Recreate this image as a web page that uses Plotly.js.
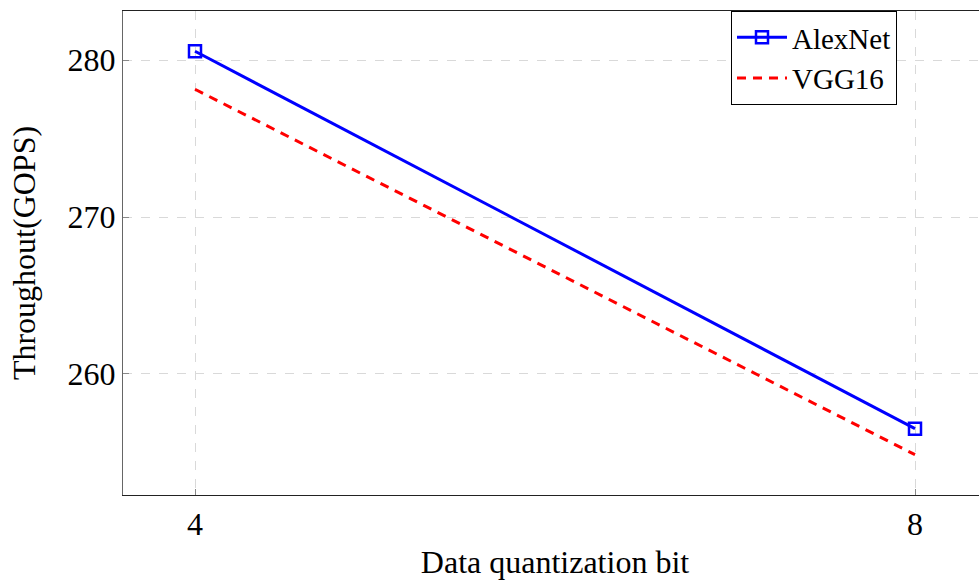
<!DOCTYPE html>
<html>
<head>
<meta charset="utf-8">
<script src="https://cdn.plot.ly/plotly-3.0.1.min.js"></script>
<style>
  html, body { margin: 0; padding: 0; overflow: hidden; background: #fff; }
  #chart { width: 990px; height: 580px; }
</style>
</head>
<body>
<div id="chart"></div>
<script>
// Throughput versus data quantization bit width
const bits = [4, 8];
const alexnet = [280.57, 256.5];
const vgg16 = [278.15, 254.84];
const yTicks = [260, 270, 280];

const serif = "'Liberation Serif', 'DejaVu Serif', serif";

const traces = [
  {
    x: bits, y: alexnet, name: 'AlexNet', type: 'scatter', mode: 'lines+markers',
    line: { color: '#0000ff', width: 3 },
    marker: { symbol: 'square-open', size: 12, color: '#0000ff', line: { width: 2.5, color: '#0000ff' } }
  },
  {
    x: bits, y: vgg16, name: 'VGG16', type: 'scatter', mode: 'lines',
    line: { color: '#ff0000', width: 3, dash: '9px,7px' }
  }
];

const layout = {
  width: 990, height: 580,
  margin: { l: 123, r: 3, t: 11, b: 85 },
  paper_bgcolor: '#fff', plot_bgcolor: '#fff',
  font: { family: serif, size: 32, color: '#000' },
  showlegend: true,
  legend: {
    x: 0.7037, y: 1, xanchor: 'left', yanchor: 'top',
    bgcolor: '#fff', bordercolor: '#000', borderwidth: 1,
    font: { family: serif, size: 29, color: '#000' },
    itemwidth: 50,
    tracegroupgap: 0
  },
  xaxis: {
    range: [3.6, 8.4], tickvals: bits, ticktext: bits.map(String),
    showgrid: true, gridcolor: '#d9d9d9', griddash: 'dash', gridwidth: 1,
    showline: true, linecolor: '#222', linewidth: 1.2, mirror: true,
    ticks: 'inside', ticklen: 6, tickcolor: '#888',
    zeroline: false,
    title: { text: 'Data quantization bit', font: { family: serif, size: 32 }, standoff: 18 }
  },
  yaxis: {
    range: [252.27, 283.14], tickvals: yTicks,
    showgrid: true, gridcolor: '#d9d9d9', griddash: 'dash', gridwidth: 1,
    showline: true, linecolor: '#666', linewidth: 1.2, mirror: true,
    ticks: 'inside', ticklen: 6, tickcolor: '#888',
    zeroline: false,
    title: { text: 'Throughout(GOPS)', font: { family: serif, size: 32 }, standoff: 22 }
  }
};

Plotly.newPlot('chart', traces, layout, { displayModeBar: false, staticPlot: true });
</script>
</body>
</html>
